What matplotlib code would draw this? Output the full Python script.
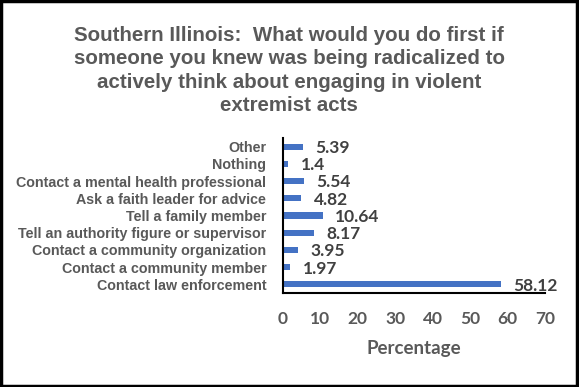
import matplotlib
matplotlib.use("Agg")
import matplotlib.pyplot as plt
from matplotlib.patches import Rectangle

categories = ["Contact law enforcement", "Contact a community member",
              "Contact a community organization", "Tell an authority figure or supervisor",
              "Tell a family member", "Ask a faith leader for advice",
              "Contact a mental health professional", "Nothing", "Other"]
values = [58.12, 1.97, 3.95, 8.17, 10.64, 4.82, 5.54, 1.4, 5.39]
value_labels = ["58.12", "1.97", "3.95", "8.17", "10.64", "4.82", "5.54", "1.4", "5.39"]
xticks = [0, 10, 20, 30, 40, 50, 60, 70]
title = ("Southern Illinois:  What would you do first if\n"
         "someone you knew was being radicalized to\n"
         "actively think about engaging in violent\n"
         "extremist acts")

W, H = 579, 387
fig = plt.figure(figsize=(W / 100, H / 100), dpi=100)
ax = fig.add_axes([283 / W, 1 - 293 / H, (545 - 283) / W, (293 - 138) / H])

y = list(range(len(categories)))
ax.barh(y, values, height=0.36, color="#4472C4")
ax.set_xlim(0, 70)
ax.set_ylim(-0.5, len(categories) - 0.5)
ax.set_yticks(y)
ax.set_yticklabels(categories, family="Liberation Sans", fontweight="bold",
                   fontsize=10.3, color="#595959")
ax.set_xticks(xticks)
ax.set_xticklabels([str(t) for t in xticks], family="Lato", fontweight="bold",
                   fontsize=12.5, color="#595959")
ax.tick_params(axis="both", length=0)
ax.tick_params(axis="x", pad=13)
ax.tick_params(axis="y", pad=12)
for s in ["top", "right"]:
    ax.spines[s].set_visible(False)
for s in ["left", "bottom"]:
    ax.spines[s].set_color("black")
    ax.spines[s].set_linewidth(1.5)

for yi, v, lab in zip(y, values, value_labels):
    ax.annotate(lab, xy=(v, yi), xytext=(9, -1), textcoords="offset points",
                ha="left", va="center", family="Lato", fontweight="bold",
                fontsize=12.5, color="#404040", annotation_clip=False)

ax.set_xlabel("Percentage", family="Lato", fontweight="bold", fontsize=13.5,
              color="#595959", labelpad=9)

fig.text(289 / W, 1 - 70.5 / H, title, ha="center", va="center", family="Liberation Sans",
         fontweight="bold", fontsize=14.8, color="#595959", linespacing=1.3)

fig.patches.append(Rectangle((0.002, 0.003), 0.994, 0.994, transform=fig.transFigure,
                             fill=False, edgecolor="black", linewidth=2.5))

fig.savefig("out.png", dpi=100)
